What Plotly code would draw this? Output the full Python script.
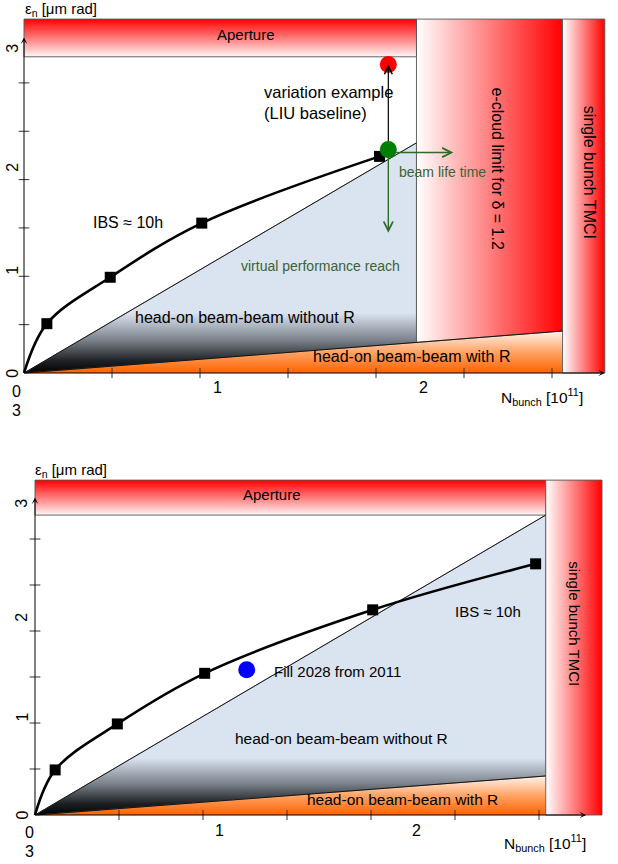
import plotly.graph_objects as go

# ---------------- data: upper panel (LIU baseline) ----------------
top_ibs_n = [0.0, 0.13, 0.49, 1.01, 2.02]
top_ibs_eps = [0.0, 0.51, 0.99, 1.55, 2.24]
top_aperture_eps = 3.27
top_frame_eps = 3.66
top_ecloud_n = 2.23
top_tmci_n = [3.06, 3.30]
top_noR_eps_end = 2.38      # head-on beam-beam without R, at e-cloud limit
top_R_eps_end = 0.434       # head-on beam-beam with R, at TMCI limit
top_liu_n = 2.07
top_liu_eps = [2.31, 3.19]  # green point -> red point
top_lifetime_n_end = 2.44
top_reach_eps_end = 1.45

# ---------------- data: lower panel ----------------
bot_ibs_n = [0.0, 0.12, 0.49, 1.01, 2.01, 2.98]
bot_ibs_eps = [0.0, 0.49, 0.99, 1.54, 2.23, 2.73]
bot_aperture_eps = 3.26
bot_frame_eps = 3.64
bot_tmci_n = [3.04, 3.375]
bot_noR_eps_end = 3.26
bot_R_eps_end = 0.424
fill_n = [1.26]
fill_eps = [1.58]

tick_vals = [0.5, 1.0, 1.5, 2.0, 2.5, 3.0]
tick_labels = ["0", "1", "2", "3"]

FONT = "Liberation Sans, Arial, sans-serif"
RED_H = [[0, "#ffffff"], [1, "#ff0000"]]
RED_V = [[0, "#fff6f6"], [1, "#ff0000"]]
ORANGE = [[0, "#ff6200"], [0.5, "#ffa466"], [1, "#fff4ec"]]
BLUE = "#dae3f0"
DKGREEN = "#2f6a2a"
TXTGREEN = "#3b6336"

fig = go.Figure()
annotations = []


def poly(xs, ys, xa, ya, grad, lc="rgba(0,0,0,0)", lw=0):
    fig.add_trace(go.Scatter(x=xs, y=ys, xaxis=xa, yaxis=ya, mode="lines",
                             fill="toself", fillgradient=grad,
                             line=dict(color=lc, width=lw),
                             hoverinfo="skip", showlegend=False))


def line(xs, ys, xa, ya, color="black", width=0.8, shape="linear"):
    fig.add_trace(go.Scatter(x=xs, y=ys, xaxis=xa, yaxis=ya, mode="lines",
                             line=dict(color=color, width=width, shape=shape),
                             hoverinfo="skip", showlegend=False))


def text(xa, ya, x, y, s, size=15, color="black", xanchor="center", angle=0):
    annotations.append(dict(x=x, y=y, xref=xa, yref=ya, text=s, showarrow=False,
                            xanchor=xanchor, yanchor="middle", textangle=angle,
                            font=dict(family=FONT, size=size, color=color)))


def arrow(xa, ya, x0, y0, x1, y1, color="black", width=1, head=3, size=1.0,
          startstandoff=0, standoff=0):
    annotations.append(dict(x=x1, y=y1, ax=x0, ay=y0, xref=xa, yref=ya,
                            axref=xa, ayref=ya, text="", showarrow=True,
                            arrowhead=head, arrowsize=size, arrowwidth=width,
                            arrowcolor=color, startstandoff=startstandoff,
                            standoff=standoff))


def panel(xa, ya, ibs_n, ibs_eps, ap, frame, tmci, noR_end, R_end, ecloud,
          xtip, ytip, tick_h_x, tick_h_y):
    blue_right = ecloud if ecloud is not None else tmci[0]
    R_at_blue = R_end * blue_right / tmci[0]
    # head-on beam-beam with R (orange)
    poly([0, tmci[0], tmci[0], 0], [0, 0, R_end, 0], xa, ya,
         dict(type="vertical", colorscale=ORANGE, start=0, stop=R_end))
    # head-on beam-beam without R (blue -> dark)
    f = 0.62 / noR_end
    poly([0, blue_right, blue_right, 0], [0, noR_end, R_at_blue, 0], xa, ya,
         dict(type="vertical", start=0, stop=noR_end,
              colorscale=[[0, "#000000"], [f * 0.2, "#1e2124"], [f * 0.55, "#7b828b"],
                          [f, BLUE], [1, BLUE]]),
         lc="#555555", lw=0.8)
    # e-cloud limit
    if ecloud is not None:
        poly([ecloud, tmci[0], tmci[0], ecloud, ecloud],
             [R_at_blue, R_end, frame, frame, R_at_blue], xa, ya,
             dict(type="horizontal", colorscale=RED_H, start=ecloud, stop=tmci[0]),
             lc="#555555", lw=0.9)
    # aperture
    poly([0, blue_right, blue_right, 0, 0], [ap, ap, frame, frame, ap], xa, ya,
         dict(type="vertical", colorscale=RED_V, start=ap, stop=frame),
         lc="#555555", lw=0.9)
    # single bunch TMCI
    poly([tmci[0], tmci[1], tmci[1], tmci[0], tmci[0]], [0, 0, frame, frame, 0], xa, ya,
         dict(type="horizontal", colorscale=RED_H, start=tmci[0], stop=tmci[1]),
         lc="#555555", lw=0.9)
    # beam-beam limit lines
    line([0, blue_right], [0, noR_end], xa, ya)
    line([0, tmci[0]], [0, R_end], xa, ya)
    # ticks
    tx, ty = [], []
    for v in tick_vals:
        tx += [v, v, None]
        ty += [-tick_h_x, tick_h_x, None]
    line(tx, ty, xa, ya, color="#333333", width=1)
    tx, ty = [], []
    for v in tick_vals:
        tx += [-tick_h_y, tick_h_y, None]
        ty += [v, v, None]
    line(tx, ty, xa, ya, color="#333333", width=1)
    # axes with arrows
    arrow(xa, ya, 0, 0, xtip, 0, color="black", width=1, head=3, size=1.1)
    arrow(xa, ya, 0, 0, 0, ytip, color="black", width=1, head=3, size=1.1)
    # IBS curve
    line(ibs_n, ibs_eps, xa, ya, color="black", width=2.6, shape="spline")
    fig.add_trace(go.Scatter(x=ibs_n[1:], y=ibs_eps[1:], xaxis=xa, yaxis=ya,
                             mode="markers",
                             marker=dict(symbol="square", size=11, color="black"),
                             hoverinfo="skip", showlegend=False))


# ---------------- upper panel ----------------
panel("x", "y", top_ibs_n, top_ibs_eps, top_aperture_eps, top_frame_eps, top_tmci_n,
      top_noR_eps_end, top_R_eps_end, top_ecloud_n, 3.30, 3.47, 0.052, 0.03)

# LIU variation example: arrows then points
arrow("x", "y", top_liu_n, top_liu_eps[0], top_liu_n, top_liu_eps[1],
      color="black", width=1.2, head=5, size=1.3, startstandoff=7)
arrow("x", "y", top_liu_n, top_liu_eps[0] - 0.03, top_lifetime_n_end, top_liu_eps[0] - 0.03,
      color=DKGREEN, width=1.4, head=5, size=1.3, startstandoff=4)
arrow("x", "y", top_liu_n, top_liu_eps[0] - 0.03, top_liu_n, top_reach_eps_end,
      color=DKGREEN, width=1.4, head=5, size=1.3, startstandoff=4)
fig.add_trace(go.Scatter(x=[top_liu_n, top_liu_n], y=top_liu_eps, xaxis="x", yaxis="y",
                         mode="markers",
                         marker=dict(size=17, color=["#008000", "#ff0000"]),
                         hoverinfo="skip", showlegend=False))

text("x", "y", 1.26, 3.50, "Aperture", 15)
text("x", "y", 1.35, 2.80, "variation example<br>(LIU baseline)", 16.5, xanchor="left")
annotations[-1]["align"] = "left"
text("x", "y", 2.12, 2.08, "beam life time", 14, TXTGREEN, xanchor="left")
text("x", "y", 0.38, 1.56, "IBS ≈ 10h", 16, xanchor="left")
text("x", "y", 1.22, 1.105, "virtual performance reach", 14, TXTGREEN, xanchor="left")
text("x", "y", 0.62, 0.57, "head-on beam-beam without R", 16, xanchor="left")
text("x", "y", 1.63, 0.175, "head-on beam-beam with R", 16, xanchor="left")
text("x", "y", 2.69, 2.11, "e-cloud limit for δ = 1.2", 16, angle=90)
text("x", "y", 3.21, 2.07, "single bunch TMCI", 16, angle=90)
# axis labels / tick labels
text("x", "y", -0.006, 3.755, "ε<sub>n</sub> [μm rad]", 15, xanchor="left")
text("x", "y", 3.19, -0.25, "N<sub>bunch</sub> [10<sup>11</sup>]", 15.5, xanchor="right")
for lbl, yv in zip(tick_labels, [0.0, 1.065, 2.13, 3.36]):
    text("x", "y", -0.07, yv, lbl, 16, angle=-90)
for lbl, xv in zip(tick_labels[:3], [-0.045, 1.10, 2.27]):
    text("x", "y", xv, -0.19 if lbl == "0" else -0.155, lbl, 16)
text("x", "y", -0.045, -0.385, tick_labels[3], 16)

# ---------------- lower panel ----------------
panel("x2", "y2", bot_ibs_n, bot_ibs_eps, bot_aperture_eps, bot_frame_eps, bot_tmci_n,
      bot_noR_eps_end, bot_R_eps_end, None, 3.28, 3.45, 0.054, 0.032)
fig.add_trace(go.Scatter(x=fill_n, y=fill_eps, xaxis="x2", yaxis="y2", mode="markers",
                         marker=dict(size=17, color="#0000ff"),
                         hoverinfo="skip", showlegend=False))

text("x2", "y2", 1.41, 3.485, "Aperture", 15)
text("x2", "y2", 1.41, 1.565, "Fill 2028 from 2011", 15, xanchor="left")
text("x2", "y2", 2.49, 2.21, "IBS ≈ 10h", 15, xanchor="left")
text("x2", "y2", 1.18, 0.835, "head-on beam-beam without R", 15.5, xanchor="left")
text("x2", "y2", 1.61, 0.165, "head-on beam-beam with R", 15.5, xanchor="left")
text("x2", "y2", 3.21, 2.08, "single bunch TMCI", 15, angle=90)
text("x2", "y2", -0.012, 3.75, "ε<sub>n</sub> [μm rad]", 15, xanchor="left")
text("x2", "y2", 3.29, -0.30, "N<sub>bunch</sub> [10<sup>11</sup>]", 15.5, xanchor="right")
for lbl, yv in zip(tick_labels, [0.0, 1.065, 2.15, 3.39]):
    text("x2", "y2", -0.08, yv, lbl, 16, angle=-90)
for lbl, xv in zip(tick_labels[:3], [-0.03, 1.10, 2.27]):
    text("x2", "y2", xv, -0.185 if lbl == "0" else -0.163, lbl, 16)
text("x2", "y2", -0.03, -0.40, tick_labels[3], 16)

fig.update_layout(
    width=618, height=864,
    margin=dict(l=0, r=0, t=0, b=0),
    paper_bgcolor="white", plot_bgcolor="white",
    showlegend=False,
    xaxis=dict(domain=[0, 1], range=[-24 / 176, 594 / 176], visible=False, anchor="y"),
    yaxis=dict(domain=[0.5, 1], range=[-59 / 96.7, 373 / 96.7], visible=False, anchor="x"),
    xaxis2=dict(domain=[0, 1], range=[-35 / 168, 583 / 168], visible=False, anchor="y2"),
    yaxis2=dict(domain=[0, 0.5], range=[-49 / 92, 383 / 92], visible=False, anchor="x2"),
    annotations=annotations,
)

fig.write_html("out.html", config={"displayModeBar": False, "staticPlot": True},
               post_script="document.body.style.margin='0px';document.body.style.overflow='hidden';")
